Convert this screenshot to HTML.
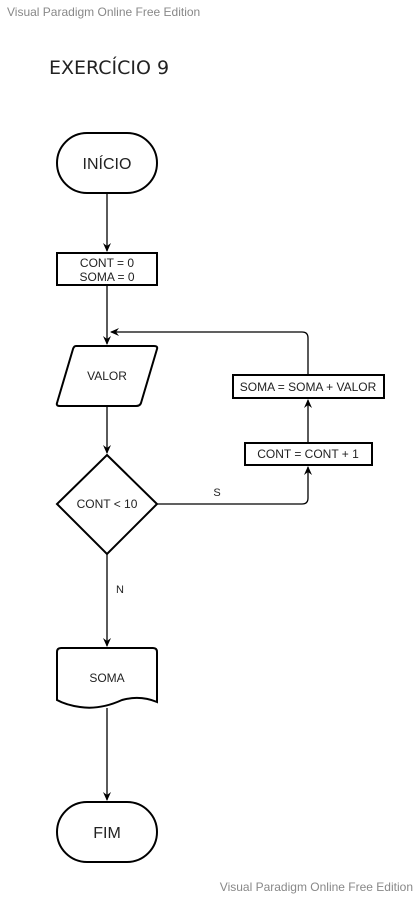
<!DOCTYPE html>
<html><head><meta charset="utf-8"><style>
html,body{margin:0;padding:0;background:#fff;}
svg{display:block;}
text{font-family:"Liberation Sans",Arial,sans-serif;fill:#222;}
</style></head><body>
<svg width="419" height="897" viewBox="0 0 419 897" xmlns="http://www.w3.org/2000/svg">
<defs>
<marker id="a" markerWidth="10" markerHeight="10" refX="8" refY="5" orient="auto" markerUnits="userSpaceOnUse">
<path d="M0,1 L9,5 L0,9 L3,5 Z" fill="#000"/>
</marker>
</defs>
<text x="7" y="16" font-size="12" fill="#888" style="fill:#888">Visual Paradigm Online Free Edition</text>
<text x="49" y="74" font-size="19" style="font-family:'DejaVu Sans','Liberation Sans',sans-serif;fill:#222">EXERCÍCIO 9</text>
<text x="413" y="891" font-size="12" text-anchor="end" style="fill:#888">Visual Paradigm Online Free Edition</text>

<g fill="none" stroke="#000" stroke-width="2">
<!-- INICIO -->
<rect x="57" y="133" width="100" height="60" rx="30" ry="30" fill="#fff"/>
<!-- CONT box -->
<rect x="57" y="253" width="100" height="32" fill="#fff"/>
<!-- VALOR parallelogram -->
<path d="M76,346 L154,346 Q158,346 157,349 L141,403 Q140,406 136,406 L60,406 Q56,406 57,403 L73,349 Q74,346 76,346 Z" fill="#fff"/>
<!-- SOMA=SOMA+VALOR -->
<rect x="233" y="375" width="151" height="23" fill="#fff"/>
<!-- CONT+1 -->
<rect x="245" y="443" width="127" height="22" fill="#fff"/>
<!-- diamond -->
<path d="M107,455 L157,504 L107,554 L57,504 Z" fill="#fff"/>
<!-- document -->
<path d="M61,648 L153,648 Q157,648 157,652 L157,702 Q140,695 122,700 Q100,710 80,707 Q66,705 57,700 L57,652 Q57,648 61,648 Z" fill="#fff"/>
<!-- FIM -->
<rect x="57" y="802" width="100" height="60" rx="30" ry="30" fill="#fff"/>
</g>

<g fill="none" stroke="#000" stroke-width="1.3">
<line x1="107" y1="193" x2="107" y2="251" marker-end="url(#a)"/>
<line x1="107" y1="285" x2="107" y2="344" marker-end="url(#a)"/>
<line x1="107" y1="406" x2="107" y2="453" marker-end="url(#a)"/>
<line x1="107" y1="554" x2="107" y2="646" marker-end="url(#a)"/>
<line x1="107" y1="708" x2="107" y2="800" marker-end="url(#a)"/>
<path d="M157,504 L302,504 Q308,504 308,498 L308,467" marker-end="url(#a)"/>
<line x1="308" y1="443" x2="308" y2="400" marker-end="url(#a)"/>
<path d="M308,375 L308,338 Q308,332 302,332 L111,332" marker-end="url(#a)"/>
</g>

<g font-size="12" text-anchor="middle">
<text x="107" y="169" font-size="16">INÍCIO</text>
<text x="107" y="267">CONT = 0</text>
<text x="107" y="281">SOMA = 0</text>
<text x="107" y="380">VALOR</text>
<text x="308" y="391">SOMA = SOMA + VALOR</text>
<text x="308" y="458">CONT = CONT + 1</text>
<text x="107" y="508">CONT &lt; 10</text>
<text x="217" y="496" font-size="11">S</text>
<text x="120" y="593" font-size="11">N</text>
<text x="107" y="682">SOMA</text>
<text x="107" y="838" font-size="16">FIM</text>
</g>
</svg>
</body></html>
